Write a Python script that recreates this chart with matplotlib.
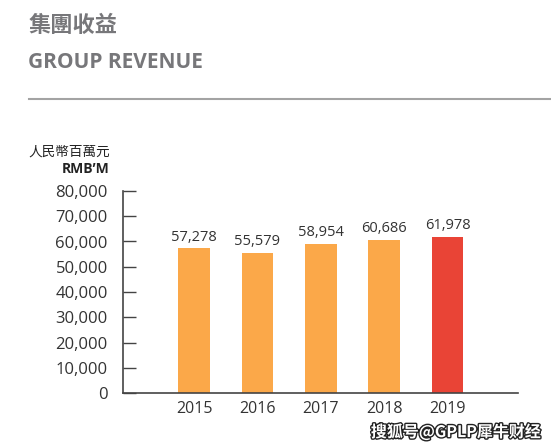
import matplotlib.pyplot as plt
import matplotlib.patheffects as pe

plt.rcParams['font.family'] = ['Open Sans', 'Noto Sans CJK TC', 'DejaVu Sans']

years = ['2015', '2016', '2017', '2018', '2019']
revenue = [57278, 55579, 58954, 60686, 61978]
bar_colors = ['#FBA849', '#FBA849', '#FBA849', '#FBA849', '#E94436']
yticks = [0, 10000, 20000, 30000, 40000, 50000, 60000, 70000, 80000]

fig = plt.figure(figsize=(5.51, 4.48), dpi=100)

# header
fig.text(29 / 551, 1 - 25 / 448, '集團收益', fontsize=16, color='#77777a',
         family=['Noto Sans CJK TC'], va='center', ha='left', weight='bold')
fig.text(28 / 551, 1 - 63 / 448, 'GROUP REVENUE', fontsize=15, color='#77777a',
         weight='bold', va='center', ha='left')
fig.add_artist(plt.Line2D([29 / 551, 1.0], [1 - 99 / 448, 1 - 99 / 448],
                          color='#a3a3a3', linewidth=1.5))

# unit labels
fig.text(110 / 551, 1 - 152 / 448, '人民幣百萬元', fontsize=9.8, color='#222222',
         family=['Noto Sans CJK TC'], ha='right', va='center')
fig.text(110 / 551, 1 - 169 / 448, 'RMB’M', fontsize=10, color='#222222',
         weight='bold', ha='right', va='center')

ax = fig.add_axes([123 / 551, 1 - 393 / 448, (518 - 123) / 551, (393 - 191) / 448])
x = range(len(years))
ax.bar(x, revenue, width=0.5, color=bar_colors, zorder=2)
for xi, v in zip(x, revenue):
    ax.text(xi, v + 1500, f'{v:,}', ha='center', va='bottom', fontsize=10.5,
            color='#333333')

ax.set_xlim(-1.12, 5.11)
ax.set_ylim(0, 80000)
ax.set_yticks(yticks)
ax.set_yticklabels([f'{t:,}' for t in yticks], fontsize=12, color='#333333')
ax.set_xticks(list(x))
ax.set_xticklabels(years, fontsize=11.5, color='#333333')
ax.tick_params(axis='y', direction='in', length=9, width=1, color='#444444', pad=11)
ax.tick_params(axis='x', length=0, pad=6)
for s in ['top', 'right']:
    ax.spines[s].set_visible(False)
for s in ['left', 'bottom']:
    ax.spines[s].set_color('#444444')
    ax.spines[s].set_linewidth(1.2)

# watermark
fig.text(456 / 551, 1 - 432 / 448, '搜狐号@GPLP犀牛财经', fontsize=11.5, color='white',
         family=['Noto Sans CJK SC'], weight='bold', ha='center', va='center',
         path_effects=[pe.withStroke(linewidth=2, foreground='#222222')])

fig.savefig('out.png', dpi=100)
